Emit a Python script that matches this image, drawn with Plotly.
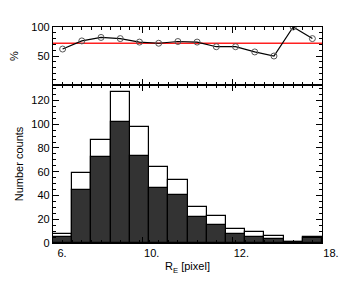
import plotly.graph_objects as go

# bins (index positions) and counts
bin_centers = [0.5 + i for i in range(14)]
total_counts = [8, 59, 87, 127, 98, 64, 53, 30, 23, 12, 9, 6, 1, 5]
dark_counts = [5, 45, 72, 102, 73, 46, 40, 22, 15, 8, 5, 3, 1, 4]
percent = [62, 76, 82, 80, 74, 72, 75, 74, 66, 66, 57, 50, 100, 80]
mean_percent = 72

x_tickvals = [0, 14 / 3, 28 / 3, 14]
x_ticktext = ["6.", "10.", "12.", "18."]
x_minor_vals = [i * 0.5 for i in range(29)]

font = "Liberation Sans, Arial, Helvetica, sans-serif"

fig = go.Figure()
fig.add_trace(go.Bar(x=bin_centers, y=total_counts, width=1.0,
                     marker=dict(color="white", line=dict(color="black", width=1.2)),
                     xaxis="x", yaxis="y", showlegend=False))
fig.add_trace(go.Bar(x=bin_centers, y=dark_counts, width=1.0,
                     marker=dict(color="#333333", line=dict(color="black", width=1.2)),
                     xaxis="x", yaxis="y", showlegend=False))
fig.add_trace(go.Scatter(x=[0, 14], y=[mean_percent, mean_percent], mode="lines",
                         line=dict(color="#ff2020", width=1.3),
                         xaxis="x2", yaxis="y2", showlegend=False))
fig.add_trace(go.Scatter(x=bin_centers, y=percent, mode="lines+markers",
                         line=dict(color="black", width=1.2),
                         marker=dict(symbol="circle-open", size=6, color="#555555",
                                     line=dict(width=1)),
                         xaxis="x2", yaxis="y2", showlegend=False))

split = 158 / 216

common_x = dict(range=[0, 14], tickmode="array", tickvals=x_tickvals,
                ticks="inside", ticklen=6, tickwidth=1, tickcolor="black",
                showline=True, linecolor="black", linewidth=1.2, mirror="ticks",
                showgrid=False, zeroline=False, automargin=False,
                minor=dict(tickmode="array", tickvals=x_minor_vals, ticks="inside",
                           ticklen=3, tickcolor="black", showgrid=False))

fig.update_layout(
    width=357, height=286,
    margin=dict(l=45, r=43, t=19, b=51),
    paper_bgcolor="white", plot_bgcolor="white",
    barmode="overlay", bargap=0,
    font=dict(family=font, size=11, color="black"),
    xaxis=dict(**common_x, ticktext=x_ticktext, anchor="y", ticklabelshift=9,
               title=dict(text="R<sub>E</sub> [pixel]", standoff=4, font=dict(size=11))),
    yaxis=dict(domain=[0, split], range=[0, 133], tickmode="array",
               tickvals=[0, 20, 40, 60, 80, 100, 120],
               ticks="inside", ticklen=6, tickcolor="black",
               showline=True, linecolor="black", linewidth=1.2, mirror="ticks",
               showgrid=False, zeroline=False, automargin=False,
               minor=dict(dtick=5, ticks="inside", ticklen=3, tickcolor="black",
                          showgrid=False),
               title=dict(text="Number counts", standoff=5, font=dict(size=11))),
    xaxis2=dict(**common_x, showticklabels=False, anchor="y2", matches="x"),
    yaxis2=dict(domain=[split, 1], range=[0, 100], tickmode="array",
                tickvals=[50, 100], anchor="x2",
                ticks="inside", ticklen=6, tickcolor="black",
                showline=True, linecolor="black", linewidth=1.2, mirror="ticks",
                showgrid=False, zeroline=False, automargin=False,
                minor=dict(dtick=10, ticks="inside", ticklen=3, tickcolor="black",
                           showgrid=False),
                title=dict(text="%", standoff=16, font=dict(size=11))),
)

fig.write_html("out.html")
